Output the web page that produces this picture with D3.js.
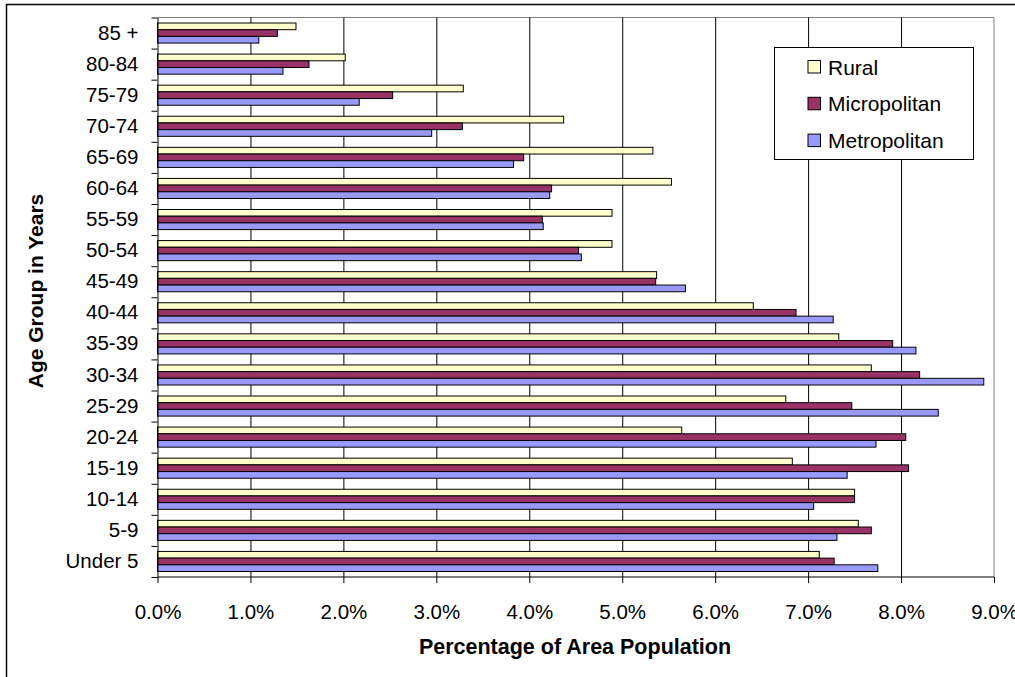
<!DOCTYPE html>
<html>
<head>
<meta charset="utf-8">
<script src="https://cdn.jsdelivr.net/npm/d3@7"></script>
<style>
  html, body { margin: 0; padding: 0; background: #fff; }
  svg { display: block; font-family: Arial, "Liberation Sans", sans-serif; }
</style>
</head>
<body>
<svg id="chart" width="1015" height="677"></svg>
<script>
// Categories listed bottom-to-top as in the chart
const categories = ["Under 5","5-9","10-14","15-19","20-24","25-29","30-34","35-39","40-44","45-49","50-54","55-59","60-64","65-69","70-74","75-79","80-84","85 +"];
const seriesNames = ["Rural","Micropolitan","Metropolitan"];
const rural        = [7.12, 7.54, 7.50, 6.83, 5.64, 6.76, 7.68, 7.33, 6.41, 5.37, 4.89, 4.89, 5.53, 5.33, 4.37, 3.29, 2.02, 1.49];
const micropolitan = [7.28, 7.68, 7.50, 8.08, 8.05, 7.47, 8.20, 7.91, 6.87, 5.36, 4.53, 4.14, 4.24, 3.94, 3.28, 2.53, 1.63, 1.29];
const metropolitan = [7.75, 7.31, 7.06, 7.42, 7.73, 8.40, 8.89, 8.16, 7.27, 5.68, 4.56, 4.15, 4.22, 3.83, 2.95, 2.17, 1.35, 1.09];
const xTicks = [0, 1, 2, 3, 4, 5, 6, 7, 8, 9];
const colors = ["#FFFFCC", "#993366", "#9999FF"];

const seriesValues = [rural, micropolitan, metropolitan];

const svg = d3.select("#chart");
const pLeft = 157.5, pRight = 994, pTop = 17.5, pBottom = 577;
const FONT = "Arial, 'Liberation Sans', sans-serif";

// outer chart border
svg.append("rect").attr("x", 6.5).attr("y", 4.5).attr("width", 1100).attr("height", 800)
  .attr("fill", "none").attr("stroke", "#000").attr("stroke-width", 1.5);

const x = d3.scaleLinear().domain([0, 9]).range([pLeft, pRight]);
const y = d3.scaleBand().domain(categories.slice().reverse()).range([pTop, pBottom])
  .paddingInner(0.354).paddingOuter(0.177);
const ySub = d3.scaleBand().domain(seriesNames).range([0, y.bandwidth()]);
const yEdges = d3.scaleLinear().domain([0, categories.length]).range([pTop, pBottom]);

// plot area border (grey top/right)
svg.append("path")
  .attr("d", `M${pLeft},${pTop}H${pRight}V${pBottom}`)
  .attr("fill", "none").attr("stroke", "#808080").attr("stroke-width", 1);

// vertical gridlines
svg.append("g").attr("transform", `translate(0,${pBottom})`)
  .call(d3.axisBottom(x).tickValues(xTicks.slice(1, -1)).tickSize(-(pBottom - pTop)).tickFormat(""))
  .call(g => g.select(".domain").remove())
  .call(g => g.selectAll("line").attr("stroke", "#000"));

// bars
const data = [];
categories.forEach((c, i) => {
  seriesNames.forEach((s, j) => data.push({cat: c, series: s, value: seriesValues[j][i], color: colors[j]}));
});
svg.append("g").selectAll("rect").data(data).join("rect")
  .attr("x", x(0))
  .attr("y", d => y(d.cat) + ySub(d.series))
  .attr("width", d => x(d.value) - x(0))
  .attr("height", ySub.bandwidth())
  .attr("fill", d => d.color)
  .attr("stroke", "#000")
  .attr("stroke-width", 1);

// x axis
const xAxis = svg.append("g").attr("transform", `translate(0,${pBottom})`)
  .call(d3.axisBottom(x).tickValues(xTicks).tickSize(6).tickSizeOuter(0).tickPadding(21)
    .tickFormat(d => d.toFixed(1) + "%"));
xAxis.selectAll("line").attr("stroke", "#000");
xAxis.select(".domain").attr("stroke", "#000").attr("d", `M${pLeft},0H${pRight}`);
xAxis.selectAll("text").attr("font-size", 20.5).attr("fill", "#000").attr("font-family", FONT);

// y axis ticks at category edges
const yTickAxis = svg.append("g").attr("transform", `translate(${pLeft},0)`)
  .call(d3.axisLeft(yEdges).tickValues(d3.range(0, categories.length + 1)).tickSize(6).tickSizeOuter(0).tickFormat(""));
yTickAxis.selectAll("line").attr("stroke", "#000");
yTickAxis.select(".domain").attr("stroke", "#000");

// y labels
const yLab = svg.append("g").attr("transform", `translate(${pLeft},0)`)
  .call(d3.axisLeft(y).tickSize(0).tickPadding(19));
yLab.select(".domain").remove();
yLab.selectAll("text").attr("font-size", 20.5).attr("fill", "#000").attr("font-family", FONT);

// axis titles
svg.append("text").attr("x", 575).attr("y", 654).attr("text-anchor", "middle")
  .attr("font-size", 21.5).attr("font-weight", "bold").text("Percentage of Area Population");
svg.append("text").attr("transform", "translate(43,291) rotate(-90)").attr("text-anchor", "middle")
  .attr("font-size", 21).attr("font-weight", "bold").text("Age Group in Years");

// legend
const lg = svg.append("g");
lg.append("rect").attr("x", 774.5).attr("y", 47.5).attr("width", 199).attr("height", 112)
  .attr("fill", "#fff").attr("stroke", "#000").attr("stroke-width", 1);
seriesNames.forEach((s, i) => {
  const cy = 67 + i * 36.8;
  lg.append("rect").attr("x", 808).attr("y", cy - 6.5).attr("width", 12.5).attr("height", 12.5)
    .attr("fill", colors[i]).attr("stroke", "#000").attr("stroke-width", 1);
  lg.append("text").attr("x", 828).attr("y", cy + 7.5).attr("font-size", 21).text(s);
});
</script>
</body>
</html>
